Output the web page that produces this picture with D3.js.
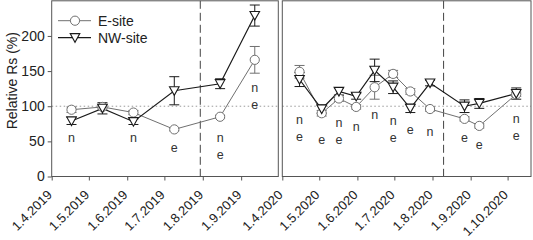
<!DOCTYPE html>
<html><head><meta charset="utf-8">
<script src="https://cdn.jsdelivr.net/npm/d3@7/dist/d3.min.js"></script>
<style>body{margin:0;background:#fff;} svg{display:block;font-family:Arial,"Liberation Sans",sans-serif;}</style>
</head><body><svg id="c" width="533" height="240"></svg>
<script>
// ---- data ----
const dates2019 = ["17.4.2019","12.5.2019","6.6.2019","9.7.2019","15.8.2019","12.9.2019"];
const eSite2019 = [95, 99, 91, 67, 85, 166];
const eErr2019 = [4, 3, 3, 2, 2, 19];
const nwSite2019 = [79, 97, 78, 122, 132, 229];
const nwErr2019 = [5, 8, 4, 20, 7, 15];
const sig2019 = [["n"], [], ["n"], ["e"], ["n","e"], ["n","e"]];
const sigLevel2019 = [55, null, 56, 41, 55, 126];

const dates2020 = ["15.4.2020","3.5.2020","17.5.2020","31.5.2020","15.6.2020","30.6.2020","14.7.2020","30.7.2020","27.8.2020","8.9.2020","8.10.2020"];
const eSite2020 = [149, 90, 111, 99, 127, 146, 121, 96, 82, 72, 117];
const eErr2020 = [9, 4, 4, 3, 17, 5, 4, 3, 3, 3, 3];
const nwSite2020 = [138, 96, 121, 114, 151, 127, 97, 133, 100, 104, 118];
const nwErr2020 = [10, 6, 5, 4, 16, 9, 6, 4, 9, 7, 8];
const sig2020 = [["n","e"],["e"],["n","e"],["n"],["n"],["n","e"],["e"],["n"],["e"],["e"],["n","e"]];
const sigLevel2020 = [81, 53, 76, 71, 88, 80, 66, 64, 56, 45, 82];

const ticks2019 = ["1.4.2019","1.5.2019","1.6.2019","1.7.2019","1.8.2019","1.9.2019"];
const ticks2020 = ["1.4.2020","1.5.2020","1.6.2020","1.7.2020","1.8.2020","1.9.2020","1.10.2020"];
const domain2019 = ["1.4.2019","1.10.2019"];
const domain2020 = ["1.4.2020","20.10.2020"];
const dashed2019 = "30.7.2019";
const dashed2020 = "10.8.2020";
const yTicks = [0, 50, 100, 150, 200];
const yDomain = [0, 250];
const refValue = 100;
const seriesNames = ["E-site", "NW-site"];
const yTitle = "Relative Rs (%)";

// ---- drawing ----
const parse = d3.timeParse("%d.%m.%Y");
const svg = d3.select("#c");
const y = d3.scaleLinear().domain(yDomain).range([176.5, 0.8]);
const eColor = "#707070", nwColor = "#1a1a1a", frameColor = "#555";

const panels = [
  {dates: dates2019, e: eSite2019, eE: eErr2019, nw: nwSite2019, nwE: nwErr2019, sig: sig2019, lvl: sigLevel2019,
   ticks: ticks2019, domain: domain2019, dashed: dashed2019, range: [51.7, 278.3], yAxis: true},
  {dates: dates2020, e: eSite2020, eE: eErr2020, nw: nwSite2020, nwE: nwErr2020, sig: sig2020, lvl: sigLevel2020,
   ticks: ticks2020, domain: domain2020, dashed: dashed2020, range: [282.3, 531], yAxis: false}
];

const triPath = (cx, cy, s) => `M${cx - s},${cy - s * 0.85}L${cx + s},${cy - s * 0.85}L${cx},${cy + s * 0.95}Z`;

panels.forEach(p => {
  const x = d3.scaleTime().domain(p.domain.map(parse)).range(p.range);
  const g = svg.append("g");
  const [x0, x1] = p.range, yb = y(0), yt = y(250);

  g.append("line").attr("x1", x0).attr("x2", x1).attr("y1", y(refValue)).attr("y2", y(refValue))
    .attr("stroke", "#9a9a9a").attr("stroke-width", 1).attr("stroke-dasharray", "1.5,2.5");
  const xd = x(parse(p.dashed));
  g.append("line").attr("x1", xd).attr("x2", xd).attr("y1", yt).attr("y2", yb)
    .attr("stroke", "#444").attr("stroke-width", 1).attr("stroke-dasharray", "8,4");

  g.append("rect").attr("x", x0).attr("y", yt).attr("width", x1 - x0).attr("height", yb - yt)
    .attr("fill", "none").attr("stroke", frameColor).attr("stroke-width", 1);

  const xa = g.append("g").attr("transform", `translate(0,${yb})`)
    .call(d3.axisBottom(x).tickValues(p.ticks.map(parse)).tickSize(4).tickFormat(""));
  xa.select(".domain").remove();
  xa.selectAll("line").attr("stroke", frameColor);
  g.selectAll(".xl").data(p.ticks).enter().append("text")
    .attr("text-anchor", "end").attr("font-size", 13).attr("fill", "#222")
    .attr("transform", d => `translate(${x(parse(d)) - 2},${yb + 16}) rotate(-45)`)
    .attr("dy", "0.35em").text(d => d);

  if (p.yAxis) {
    const ya = g.append("g").attr("transform", `translate(${x0},0)`)
      .call(d3.axisLeft(y).tickValues(yTicks).tickSize(4).tickPadding(3));
    ya.select(".domain").remove();
    ya.selectAll("line").attr("stroke", frameColor);
    ya.selectAll("text").attr("font-size", 14).attr("fill", "#222").attr("font-family", "Arial, 'Liberation Sans', sans-serif");
    svg.append("text").attr("transform", `translate(17,${(yb + yt) / 2 - 8}) rotate(-90)`)
      .attr("text-anchor", "middle").attr("font-size", 14).attr("fill", "#222").text(yTitle);
  }

  const pts = p.dates.map((d, i) => ({x: x(parse(d)), e: p.e[i], eE: p.eE[i], nw: p.nw[i], nwE: p.nwE[i]}));

  const errBars = (val, err, col) => {
    pts.forEach(d => {
      const v = d[val], er = d[err];
      g.append("line").attr("x1", d.x).attr("x2", d.x).attr("y1", y(v - er)).attr("y2", y(v + er)).attr("stroke", col);
      [v - er, v + er].forEach(c => g.append("line").attr("x1", d.x - 5).attr("x2", d.x + 5)
        .attr("y1", y(c)).attr("y2", y(c)).attr("stroke", col).attr("stroke-width", 1));
    });
  };
  errBars("e", "eE", eColor);
  errBars("nw", "nwE", nwColor);

  g.append("path").datum(pts).attr("fill", "none").attr("stroke", eColor).attr("stroke-width", 1)
    .attr("d", d3.line().x(d => d.x).y(d => y(d.e)));
  g.append("path").datum(pts).attr("fill", "none").attr("stroke", nwColor).attr("stroke-width", 1.2)
    .attr("d", d3.line().x(d => d.x).y(d => y(d.nw)));

  pts.forEach(d => {
    g.append("circle").attr("cx", d.x).attr("cy", y(d.e)).attr("r", 4.6)
      .attr("fill", "#fff").attr("stroke", eColor).attr("stroke-width", 1);
  });
  pts.forEach(d => {
    g.append("path").attr("d", triPath(d.x, y(d.nw), 4.8))
      .attr("fill", "#fff").attr("stroke", nwColor).attr("stroke-width", 1.1);
  });

  pts.forEach((d, i) => {
    if (p.lvl[i] == null) return;
    p.sig[i].forEach((s, j) => {
      g.append("text")
        .attr("transform", `translate(${d.x},${y(p.lvl[i]) + j * 17}) rotate(0.01)`)
        .attr("dy", "0.35em")
        .attr("text-anchor", "middle").attr("font-size", 12.5).attr("fill", "#333").text(s);
    });
  });
});

const lg = svg.append("g");
[[eColor, 20.7, "circle"], [nwColor, 37.7, "tri"]].forEach(([col, ly, m], i) => {
  lg.append("line").attr("x1", 58).attr("x2", 91).attr("y1", ly).attr("y2", ly).attr("stroke", col).attr("stroke-width", i ? 1.2 : 1);
  if (m === "circle") lg.append("circle").attr("cx", 75).attr("cy", ly).attr("r", 4.6).attr("fill", "#fff").attr("stroke", col);
  else lg.append("path").attr("d", triPath(75, ly, 4.8)).attr("fill", "#fff").attr("stroke", col).attr("stroke-width", 1.1);
  lg.append("text").attr("x", 98).attr("y", ly).attr("dy", "0.35em").attr("font-size", 14).attr("fill", "#222").text(seriesNames[i]);
});
</script></body></html>
